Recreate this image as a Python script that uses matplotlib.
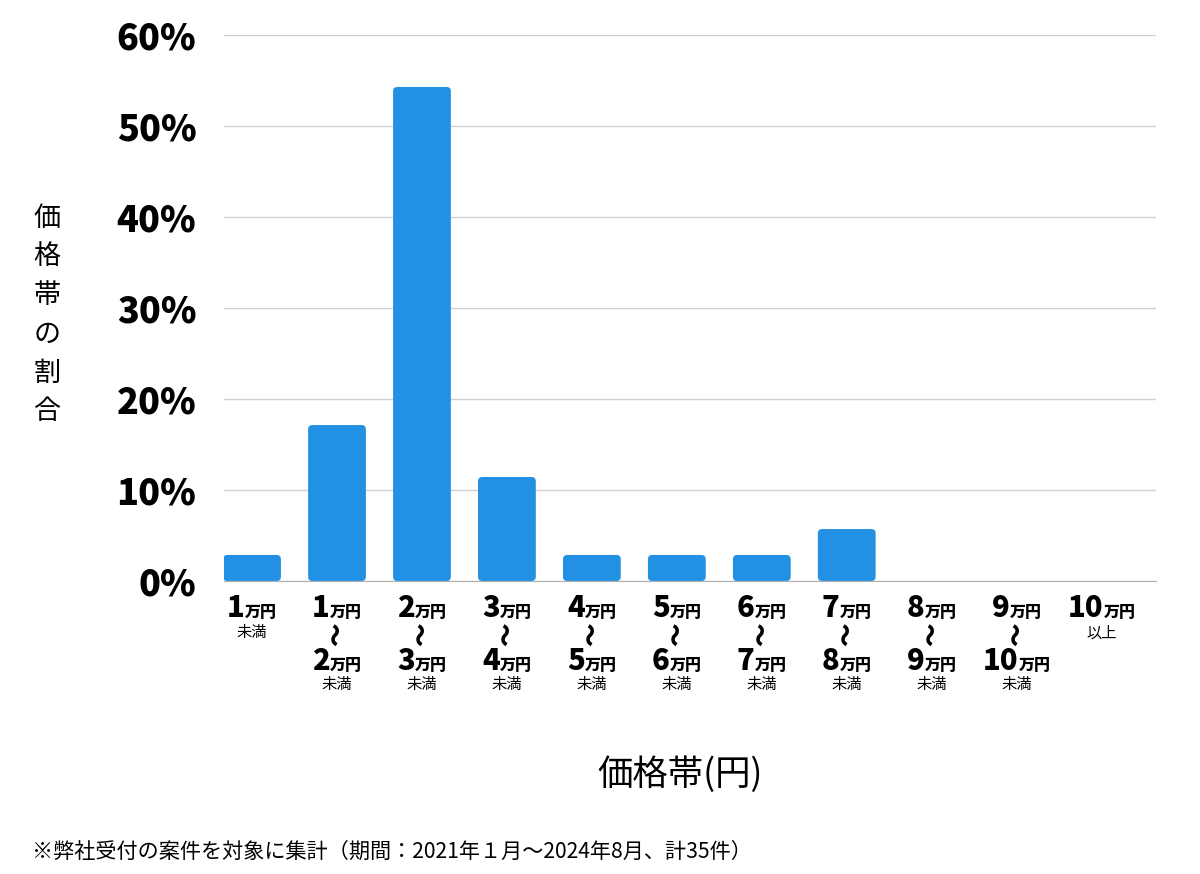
import matplotlib
matplotlib.use("Agg")
import matplotlib.pyplot as plt
from matplotlib.patches import FancyBboxPatch
from matplotlib.offsetbox import TextArea, HPacker, AnnotationBbox

plt.rcParams['font.family'] = ['Noto Sans CJK JP', 'DejaVu Sans']

# data: share of 35 cases per price band
lo = ["1", "1", "2", "3", "4", "5", "6", "7", "8", "9", "10"]
hi = [None, "2", "3", "4", "5", "6", "7", "8", "9", "10", None]
suffix = ["未満", "未満", "未満", "未満", "未満", "未満", "未満", "未満", "未満", "未満", "以上"]
share = [2.86, 17.14, 54.29, 11.43, 2.86, 2.86, 2.86, 5.71, 0, 0, 0]
yticks = [0, 10, 20, 30, 40, 50, 60]

color = "#2391e3"

fig = plt.figure(figsize=(12, 8.74), dpi=100)
ax = fig.add_axes([224/1200, 1-581/874, (1156-224)/1200, (581-35)/874])

w = 0.68
asp = 85 / (546 / 60)   # y units per x unit for equal pixels
for i, v in enumerate(share):
    if v <= 0:
        continue
    p = FancyBboxPatch((i - w/2, 0), w, v,
                       boxstyle="round,pad=0,rounding_size=0.05",
                       mutation_aspect=asp, fc=color, ec="none", zorder=3)
    ax.add_patch(p)

ax.set_xlim(-0.33, 10.64)
ax.set_ylim(0, 60)
ax.set_yticks(yticks)
ax.set_yticklabels([f"{t}%" for t in yticks], fontsize=26, fontweight="black")
ax.tick_params(axis="y", length=0, pad=20)
ax.set_xticks([])
ax.grid(axis="y", color="#d0d0d0", lw=1, zorder=0)
for s in ["top", "right", "left"]:
    ax.spines[s].set_visible(False)
ax.spines["bottom"].set_color("#b0b0b0")
ax.spines["bottom"].set_zorder(4)


def price(num):
    t1 = TextArea(num, textprops=dict(fontsize=21, fontweight="black"))
    t2 = TextArea("万円", textprops=dict(fontsize=11.5, fontweight="black"))
    return HPacker(children=[t1, t2], align="baseline", pad=0, sep=0)


def put(box, i, dy):
    ab = AnnotationBbox(box, (i, 0), xycoords=("data", "axes fraction"),
                        xybox=(0, dy), boxcoords="offset pixels",
                        frameon=False, box_alignment=(0.5, 0.5))
    ax.add_artist(ab)


for i in range(len(lo)):
    put(price(lo[i]), i, -27)
    if hi[i] is None:
        ax.annotate(suffix[i], (i, 0), xycoords=("data", "axes fraction"),
                    xytext=(0, -52), textcoords="offset pixels",
                    ha="center", va="center", fontsize=11)
    else:
        ax.annotate("〜", (i, 0), xycoords=("data", "axes fraction"),
                    xytext=(0, -53), textcoords="offset pixels",
                    ha="center", va="center", fontsize=17, fontweight="black",
                    rotation=90)
        put(price(hi[i]), i, -80)
        ax.annotate(suffix[i], (i, 0), xycoords=("data", "axes fraction"),
                    xytext=(0, -104), textcoords="offset pixels",
                    ha="center", va="center", fontsize=11)

fig.text(47/1200, 1-315/874, "\n".join("価格帯の割合"), fontsize=19.5,
         ha="center", va="center", linespacing=1.56)
fig.text(680/1200, 1-775/874, "価格帯(円)", fontsize=25.5, ha="center", va="center")
fig.text(32/1200, 1-852/874, "※弊社受付の案件を対象に集計（期間：2021年１月～2024年8月、計35件）",
         fontsize=15.2, ha="left", va="center")

fig.savefig("out.png", dpi=100)
